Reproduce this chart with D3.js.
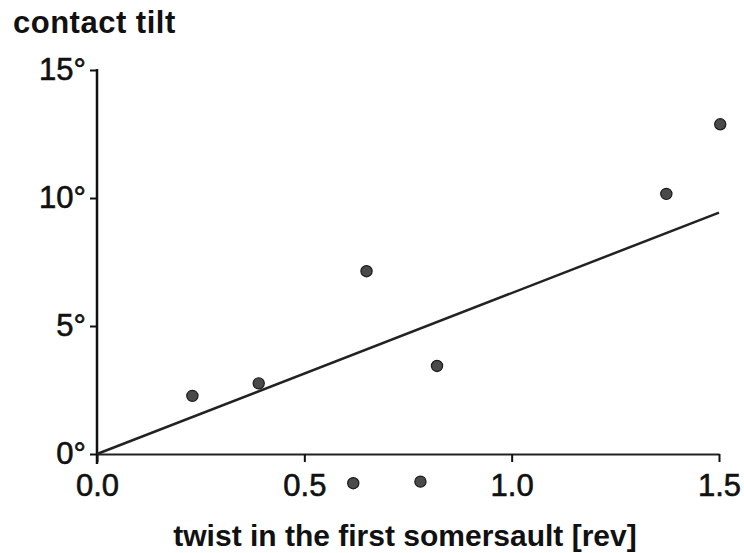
<!DOCTYPE html>
<html><head><meta charset="utf-8">
<script src="https://cdn.jsdelivr.net/npm/d3@7"></script>
<style>body{margin:0;background:#fff}svg{display:block}</style>
</head><body>
<svg id="c" width="744" height="553"></svg>
<script>
const twist = [0.23, 0.39, 0.65, 0.82, 1.373, 1.503, 0.618, 0.78];
const tilt  = [2.27, 2.76, 7.14, 3.44, 10.16, 12.88, -1.14, -1.08];
const fitX = [0, 1.5];
const fitY = [0, 9.43];
const xTicks = [0, 0.5, 1.0, 1.5];
const xTickLabels = ["0.0", "0.5", "1.0", "1.5"];
const yTicks = [0, 5, 10, 15];
const yTickLabels = ["0°", "5°", "10°", "15°"];

const svg = d3.select("#c");
const x = d3.scaleLinear().domain([0, 1.5]).range([97, 719]);
const y = d3.scaleLinear().domain([0, 15]).range([454, 70]);
const font = "'Liberation Sans', Arial, Helvetica, sans-serif";

// y axis
const yAxis = d3.axisLeft(y).tickValues(yTicks).tickFormat((d,i)=>yTickLabels[i]).tickSize(7).tickPadding(4).tickSizeOuter(0);
const gy = svg.append("g").attr("transform", "translate(97,0)").call(yAxis);
gy.select(".domain").remove();
gy.selectAll(".tick line").attr("stroke", "#111").attr("stroke-width", 2);
gy.selectAll("text").attr("font-family", font).attr("font-size", 31).attr("fill", "#111")
  .attr("stroke", "#111").attr("stroke-width", 0.6);
svg.append("line").attr("x1", 97).attr("x2", 97).attr("y1", y(15) - 1).attr("y2", y(0) + 10)
  .attr("stroke", "#111").attr("stroke-width", 2.5);

// x axis
const xAxis = d3.axisBottom(x).tickValues(xTicks).tickFormat((d,i)=>xTickLabels[i]).tickSize(8).tickPadding(12).tickSizeOuter(0);
const gx = svg.append("g").attr("transform", "translate(0,454)").call(xAxis);
gx.select(".domain").attr("stroke", "#222").attr("stroke-width", 2);
gx.selectAll(".tick line").attr("stroke", "#111").attr("stroke-width", 2);
gx.selectAll("text").attr("font-family", font).attr("font-size", 31).attr("fill", "#111")
  .attr("stroke", "#111").attr("stroke-width", 0.6);

// fit line
svg.append("line")
  .attr("x1", x(fitX[0])).attr("y1", y(fitY[0]))
  .attr("x2", x(fitX[1])).attr("y2", y(fitY[1]))
  .attr("stroke", "#222").attr("stroke-width", 2.5);

// points
svg.append("g").selectAll("circle").data(twist).join("circle")
  .attr("cx", d => x(d)).attr("cy", (d,i) => y(tilt[i]))
  .attr("r", 5.6).attr("fill", "#4a4a4a").attr("stroke", "#1a1a1a").attr("stroke-width", 1.2);

// titles
svg.append("text").attr("x", 13).attr("y", 33).attr("font-family", font).attr("font-weight", "bold")
  .attr("font-size", 31).attr("letter-spacing", 0.5).attr("fill", "#111").text("contact tilt");
svg.append("text").attr("x", 405).attr("y", 546).attr("text-anchor", "middle").attr("font-family", font).attr("font-weight", "bold")
  .attr("font-size", 30).attr("fill", "#111").text("twist in the first somersault [rev]");
</script>
</body></html>
